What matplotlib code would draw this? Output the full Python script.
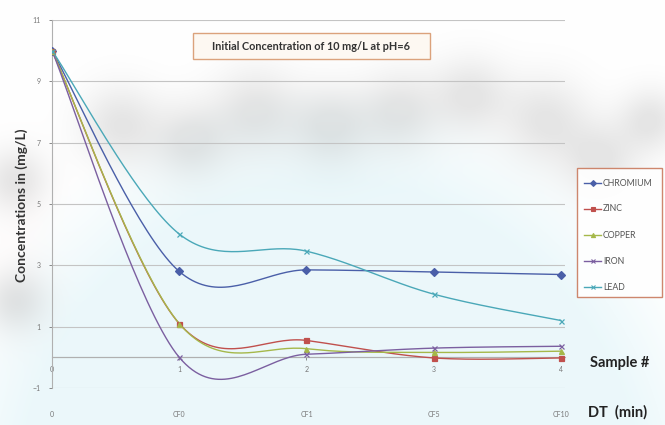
import numpy as np
import matplotlib.pyplot as plt
from matplotlib.patches import Rectangle
from matplotlib.lines import Line2D

plt.rcParams["font.family"] = ["Lato", "DejaVu Sans"]

samples = [0, 1, 2, 3, 4]
dt_labels = ["0", "CF0", "CF1", "CF5", "CF10"]

chromium = [10, 2.80, 2.85, 2.78, 2.70]
zinc = [10, 1.10, 0.55, -0.02, -0.02]
copper = [10, 1.10, 0.28, 0.16, 0.20]
iron = [10, 0.00, 0.10, 0.30, 0.36]
lead = [10, 4.02, 3.46, 2.06, 1.20]

names = ["CHROMIUM", "ZINC", "COPPER", "IRON", "LEAD"]
values = [chromium, zinc, copper, iron, lead]
colors = ["#4a5fa8", "#c0504d", "#a5b84a", "#7b5fa0", "#4aa8b8"]
markers = ["D", "s", "^", "x", "x"]

W, H = 665, 425


def px(x, y):
    # pixel position (from top-left) -> figure fraction
    return x / W, 1 - y / H


def smooth(x, y, n=40):
    # Catmull-Rom style bezier pieces, like a spreadsheet "smoothed line"
    x = np.asarray(x, float)
    y = np.asarray(y, float)
    xs, ys = [], []
    for i in range(len(x) - 1):
        i0 = max(i - 1, 0)
        i3 = min(i + 2, len(x) - 1)
        p0 = np.array([x[i], y[i]])
        p3 = np.array([x[i + 1], y[i + 1]])
        c1 = p0 + (p3 - np.array([x[i0], y[i0]])) / 6
        c2 = p3 - (np.array([x[i3], y[i3]]) - p0) / 6
        t = np.linspace(0, 1, n)[:, None]
        b = ((1 - t) ** 3 * p0 + 3 * (1 - t) ** 2 * t * c1
             + 3 * (1 - t) * t ** 2 * c2 + t ** 3 * p3)
        xs.append(b[:, 0])
        ys.append(b[:, 1])
    return np.concatenate(xs), np.concatenate(ys)


fig = plt.figure(figsize=(6.65, 4.25), dpi=100)

# washed-out background: pale cyan arch and grey smudges
yy, xx = np.mgrid[0:H, 0:W].astype(float)
img = np.ones((H, W, 3))
r = np.sqrt(((xx - 330) / 365) ** 2 + ((yy - 520) / 390) ** 2)
cyan = np.clip((1.12 - r) / 0.25, 0, 1)
img = img * (1 - 0.55 * cyan[..., None]) + 0.55 * cyan[..., None] * np.array([0.86, 0.95, 0.97])
blobs = [(120, 125, 28), (190, 140, 26), (255, 110, 30), (330, 125, 28),
         (400, 110, 28), (470, 95, 26), (545, 120, 30), (600, 160, 26),
         (15, 180, 22), (15, 300, 22), (650, 120, 22)]
grey = np.zeros((H, W))
for bx, by, s in blobs:
    grey += np.exp(-((xx - bx) ** 2 + (yy - by) ** 2) / (2 * s ** 2))
grey = np.clip(grey, 0, 1)
img = img * (1 - 0.10 * grey[..., None])
pink = np.exp(-((xx - 20) ** 2 / (2 * 25 ** 2) + (yy - 250) ** 2 / (2 * 60 ** 2)))
img = img * (1 - 0.06 * pink[..., None]) + 0.06 * pink[..., None] * np.array([0.95, 0.82, 0.82])
bg = fig.add_axes([0, 0, 1, 1], zorder=-1)
bg.imshow(img, aspect="auto", interpolation="bilinear")
bg.axis("off")

ax = fig.add_axes([0.0782, 0.0871, 0.771, 0.866])
ax.patch.set_alpha(0)

for name, vals, col, mk in zip(names, values, colors, markers):
    sx, sy = smooth(samples, vals)
    ax.plot(sx, sy, color=col, lw=1.0, zorder=3)
    ax.plot(samples, vals, ls="none", marker=mk, ms=3.6, color=col,
            mec=col, mfc=col, mew=0.9, zorder=4)

ax.set_xlim(0, 4.03)
ax.set_ylim(-1, 11)
ax.set_yticks([-1, 1, 3, 5, 7, 9, 11])
ax.set_xticks(samples)
ax.set_xticklabels([str(s) for s in samples])
ax.yaxis.grid(True, color="#c4c4c4", lw=0.8)
ax.axhline(0, color="#b0b0b0", lw=0.8, zorder=2)
ax.spines["bottom"].set_position(("data", 0))
ax.spines["bottom"].set_color("#b0b0b0")
ax.spines["left"].set_color("#b0b0b0")
ax.spines["top"].set_visible(False)
ax.spines["right"].set_visible(False)
ax.tick_params(axis="both", labelsize=5, colors="#777777", length=2,
               width=0.6)
ax.tick_params(axis="x", pad=4)
ax.tick_params(axis="y", pad=6)
ax.set_axisbelow(True)

fig.text(*px(22, 205), "Concentrations in (mg/L)", rotation=90,
         ha="center", va="center", fontsize=10, fontweight="bold",
         color="#333333")

# second category row below the plot
for s, lab in zip(samples, dt_labels):
    ax.text(s, -1.85, lab, ha="center", va="center", fontsize=5,
            color="#777777", clip_on=False)
fig.text(*px(588, 412), "DT  (min)", ha="left", va="center",
         fontsize=10.5, fontweight="bold", color="#222222")
fig.text(*px(590, 363), "Sample #", ha="left", va="center",
         fontsize=10.5, fontweight="bold", color="#222222")

# title box
x0, y0 = px(193, 59)
x1, y1 = px(430, 33)
fig.patches.append(Rectangle((x0, y0), x1 - x0, y1 - y0, transform=fig.transFigure,
                             fc="#fdf8f2", ec="#dba27c", lw=1.0, zorder=5))
fig.text(*px(311, 46), "Initial Concentration of 10 mg/L at pH=6",
         ha="center", va="center", fontsize=7.8, fontweight="bold",
         color="#333333", zorder=6)

# legend box
x0, y0 = px(577, 297)
x1, y1 = px(662, 168)
fig.patches.append(Rectangle((x0, y0), x1 - x0, y1 - y0, transform=fig.transFigure,
                             fc="white", ec="#c97a5e", lw=1.0, alpha=0.9, zorder=5))
for i, (name, col, mk) in enumerate(zip(names, colors, markers)):
    ly = 183 + i * 26
    lx0, lyf = px(584, ly)
    lx1, _ = px(601, ly)
    fig.add_artist(Line2D([lx0, lx1], [lyf, lyf], color=col, lw=1.0,
                          transform=fig.transFigure, zorder=6))
    fig.add_artist(Line2D([(lx0 + lx1) / 2], [lyf], color=col, marker=mk,
                          ms=3, mfc=col, mec=col, mew=0.8,
                          transform=fig.transFigure, zorder=6))
    fig.text(*px(603, ly), name, ha="left", va="center", fontsize=6.3,
             color="#555555", zorder=6)

fig.savefig("out.png", dpi=100)
